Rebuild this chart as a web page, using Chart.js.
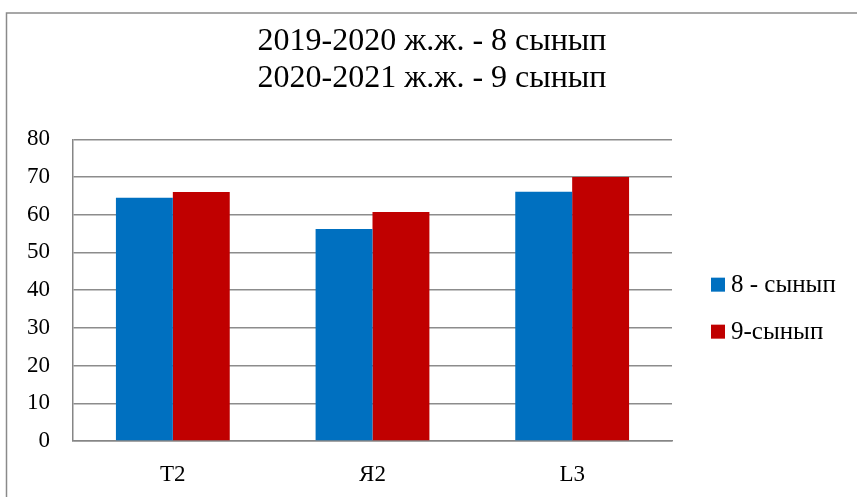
<!DOCTYPE html>
<html>
<head>
<meta charset="utf-8">
<script src="https://cdn.jsdelivr.net/npm/chart.js@4/dist/chart.umd.min.js"></script>
<style>
  html, body { margin: 0; padding: 0; background: #ffffff; }
  #wrap { position: relative; width: 857px; height: 497px; }
</style>
</head>
<body>
<div id="wrap"><canvas id="c" width="857" height="497"></canvas></div>
<script>
// Subjects and average results per grade
const categories = ['T2', 'Я2', 'L3'];
const grade8 = [64.5, 56.2, 66.1];
const grade9 = [66.0, 60.7, 70.0];
const seriesNames = ['8 - сынып', '9-сынып'];
const titleLines = ['2019-2020 ж.ж. - 8 сынып', '2020-2021 ж.ж. - 9 сынып'];
const yTicks = [0, 10, 20, 30, 40, 50, 60, 70, 80];

const SERIF = '"Liberation Serif", "Times New Roman", serif';
const colors = ['#0070C0', '#C00000'];

// Outer frame of the chart object (left and top edges visible)
const framePlugin = {
  id: 'frame',
  beforeDraw(chart) {
    const ctx = chart.ctx;
    ctx.save();
    ctx.fillStyle = '#ffffff';
    ctx.fillRect(0, 0, chart.width, chart.height);
    ctx.strokeStyle = '#8a8a8a';
    ctx.lineWidth = 1.5;
    ctx.beginPath();
    ctx.moveTo(6.5, chart.height);
    ctx.lineTo(6.5, 13);
    ctx.lineTo(chart.width, 13);
    ctx.stroke();
    ctx.restore();
  }
};

// Legend on the right: square swatch followed by series name
const sideLegend = {
  id: 'sideLegend',
  afterDraw(chart) {
    const ctx = chart.ctx;
    const area = chart.chartArea;
    const x = area.right + 39;
    const mid = (area.top + area.bottom) / 2 + 18;
    const gap = 47;
    ctx.save();
    ctx.font = '25px ' + SERIF;
    ctx.textBaseline = 'middle';
    ctx.textAlign = 'left';
    chart.data.datasets.forEach((ds, i) => {
      const y = mid + (i - (chart.data.datasets.length - 1) / 2) * gap;
      ctx.fillStyle = ds.backgroundColor;
      ctx.fillRect(x, y - 7, 14, 14);
      ctx.fillStyle = '#000000';
      ctx.fillText(ds.label, x + 20, y + 1);
    });
    ctx.restore();
  }
};

new Chart(document.getElementById('c'), {
  type: 'bar',
  data: {
    labels: categories,
    datasets: [
      { label: seriesNames[0], data: grade8, backgroundColor: colors[0], yAxisID: 'y' },
      { label: seriesNames[1], data: grade9, backgroundColor: colors[1], yAxisID: 'y' }
    ]
  },
  options: {
    responsive: false,
    animation: false,
    devicePixelRatio: 1,
    layout: { padding: { left: 7, right: 0, top: 0, bottom: 0 } },
    datasets: {
      bar: { categoryPercentage: 0.57, barPercentage: 1.0, borderWidth: 0 }
    },
    plugins: {
      legend: { display: false },
      tooltip: { enabled: false },
      title: {
        display: true,
        text: titleLines,
        color: '#000000',
        font: { family: SERIF, size: 32, weight: 'normal', lineHeight: 1.13 },
        padding: { top: 24, bottom: 43 }
      }
    },
    scales: {
      x: {
        grid: { display: false, drawTicks: false },
        border: { display: true, color: '#868686', width: 1.5 },
        ticks: { color: '#000000', padding: 20, font: { family: SERIF, size: 23 } },
        afterFit(axis) { axis.height = 56; }
      },
      y: {
        min: 0,
        max: 80,
        afterBuildTicks(axis) { axis.ticks = yTicks.map(v => ({ value: v })); },
        grid: { color: '#8c8c8c', lineWidth: 1.5, drawTicks: false },
        border: { display: true, color: '#868686', width: 1.5 },
        ticks: { color: '#000000', padding: 23, font: { family: SERIF, size: 23 } },
        afterFit(axis) { axis.width = 66; }
      },
      // empty right-hand axis that reserves room for the legend
      side: {
        position: 'right',
        display: true,
        grid: { display: false, drawTicks: false },
        border: { display: false },
        ticks: { display: false },
        afterFit(axis) { axis.width = 185; }
      }
    }
  },
  plugins: [framePlugin, sideLegend]
});
</script>
</body>
</html>
